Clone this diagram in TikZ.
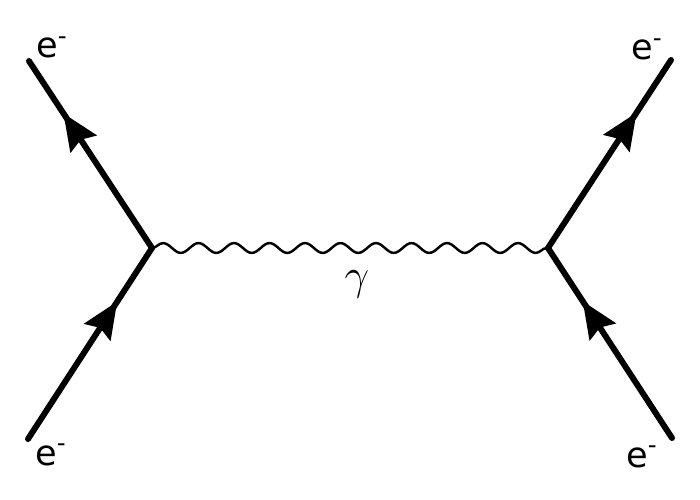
\documentclass[tikz,border=0pt]{standalone}
\usepackage{fontspec}
\setmainfont{DejaVu Sans}
\usetikzlibrary{arrows.meta,decorations.markings,decorations.pathmorphing}
\tikzset{
	fermion/.style={line width=3.4pt, line cap=round, postaction={decorate},
		decoration={markings, mark=at position 0.72 with {\arrow{Stealth[length=20.7pt,width=17.5pt,inset=2.8pt]}}}},
	photon/.style={line width=1.4pt, decorate,
		decoration={snake, amplitude=2.8pt, segment length=20.2pt}},
	particle/.style={inner sep=0pt, anchor=base west, font=\fontsize{20}{24}\selectfont},
}

\begin{document}
\begin{tikzpicture}[x=0.02cm, y=-0.02cm]
			%%%%% START %%%%%
			\useasboundingbox (0, 0) rectangle (700, 500);
			
			\coordinate (vL) at (152, 248);
			\coordinate (vR) at (548, 248);
			\coordinate (inL) at (28, 439);
			\coordinate (outL) at (29, 61);
			\coordinate (inR) at (672, 438);
			\coordinate (outR) at (671, 60);
			
			\draw[fermion] (inL) -- (vL);
			\draw[fermion] (vL) -- (outL);
			\draw[fermion] (inR) -- (vR);
			\draw[fermion] (vR) -- (outR);
			
			\draw[photon] (vL) -- (vR);
			
			\node[particle] (eOutL) at (36, 58) {e\textsuperscript{-}};
			\node[particle] (eInL) at (35, 465) {e\textsuperscript{-}};
			\node[particle] (eOutR) at (631, 60) {e\textsuperscript{-}};
			\node[particle] (eInR) at (626, 467) {e\textsuperscript{-}};
			
			\node[inner sep=0pt, anchor=base, font=\fontsize{29}{35}\selectfont] (gam) at (357, 289) {$\gamma$};
			
			%%%%% END %%%%%
		\end{tikzpicture}
\end{document}
